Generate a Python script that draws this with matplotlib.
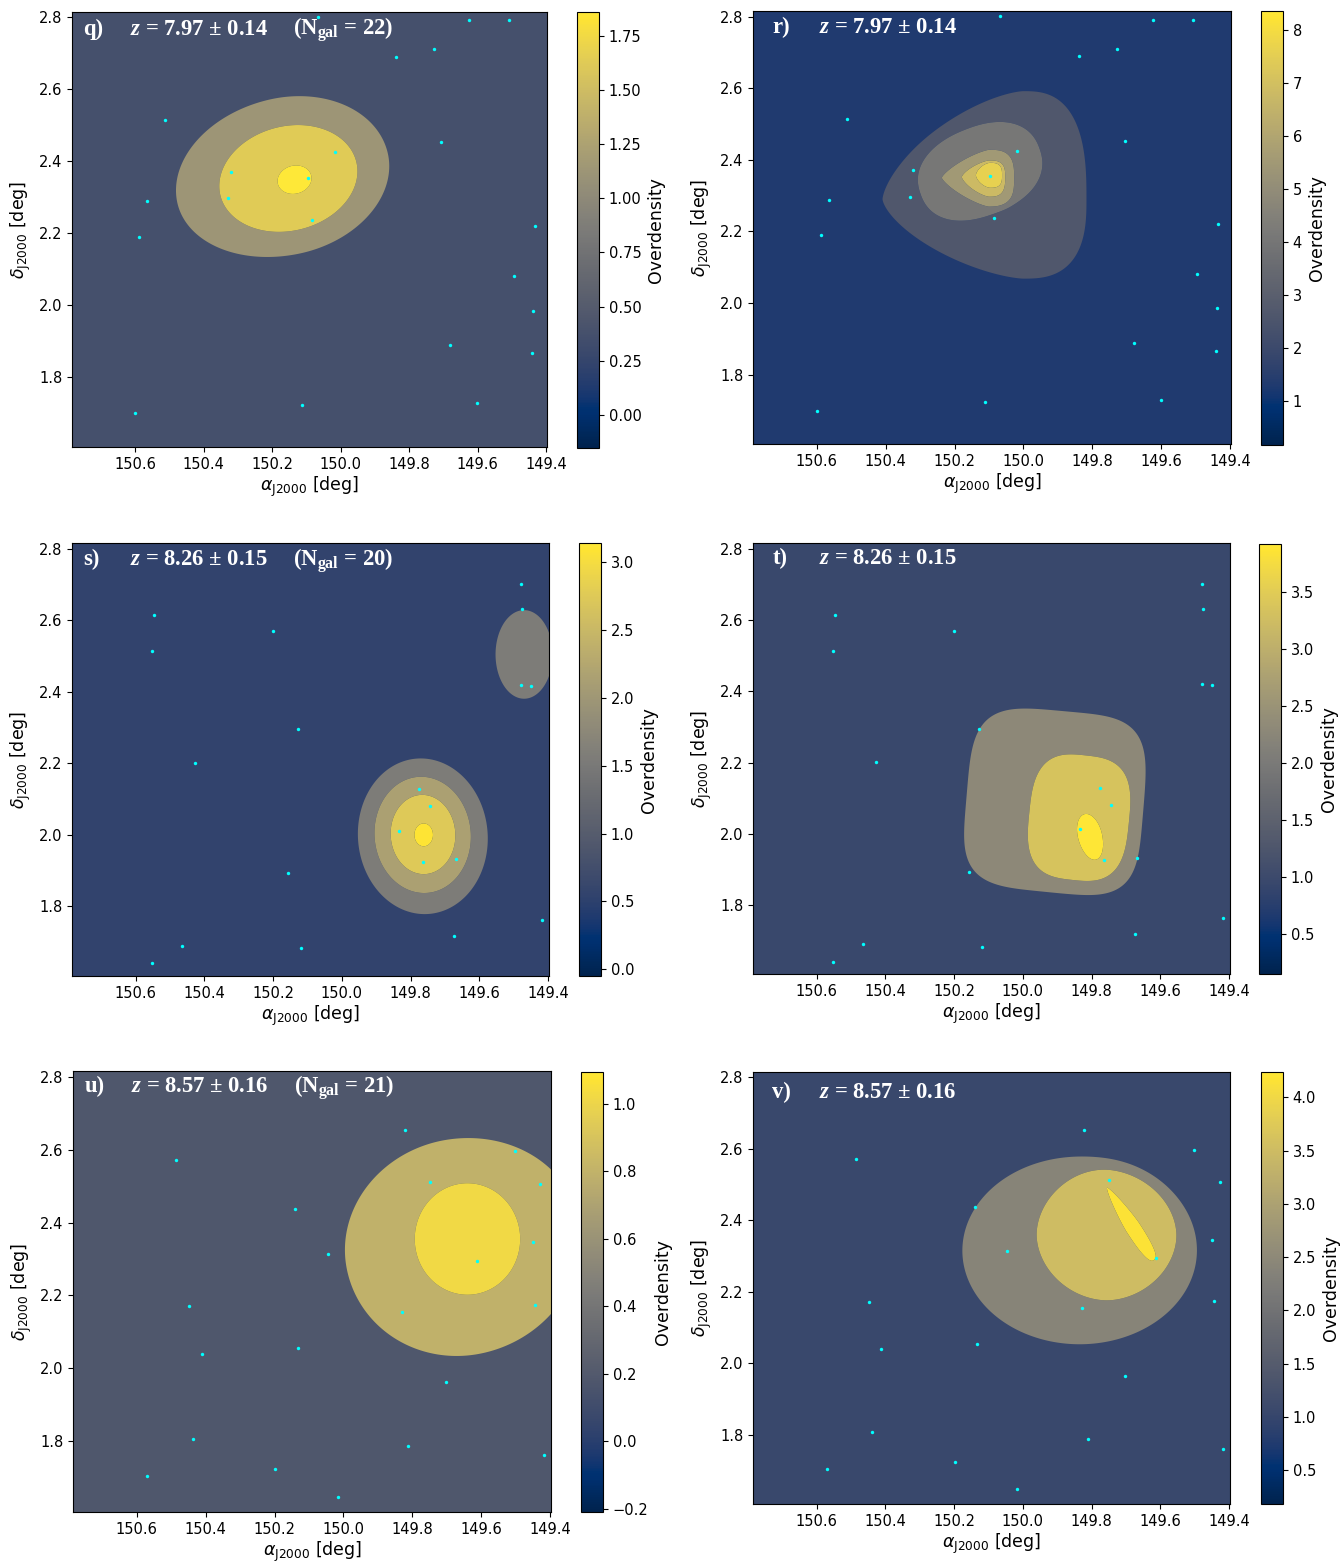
import numpy as np
import matplotlib
matplotlib.use("Agg")
import matplotlib.pyplot as plt
from matplotlib import cm, colors as mcolors

plt.rcParams['mathtext.fontset'] = 'custom'
plt.rcParams['mathtext.rm'] = 'Liberation Serif:bold'
plt.rcParams['mathtext.it'] = 'Liberation Serif:italic:bold'
plt.rcParams['mathtext.bf'] = 'Liberation Serif:bold'

# ---------------- galaxy positions (RA, Dec in deg) ----------------
z797_ra = [150.067, 149.624, 149.509, 149.728, 149.839, 150.513, 149.706, 150.018,
           150.322, 150.097, 150.329, 150.565, 150.084, 149.434, 150.589, 149.495,
           149.438, 149.680, 149.442, 149.601, 150.112, 150.600]
z797_dec = [2.801, 2.792, 2.792, 2.711, 2.690, 2.515, 2.453, 2.426,
            2.371, 2.355, 2.297, 2.289, 2.238, 2.220, 2.189, 2.081,
            1.985, 1.889, 1.866, 1.728, 1.723, 1.699]

z826_ra = [149.478, 149.475, 150.547, 150.201, 150.553, 149.478, 149.449, 150.128,
           150.428, 149.776, 149.743, 149.833, 149.765, 149.668, 150.158, 149.418,
           149.674, 150.465, 150.119, 150.552]
z826_dec = [2.701, 2.632, 2.615, 2.570, 2.514, 2.420, 2.418, 2.295,
            2.202, 2.129, 2.081, 2.012, 1.925, 1.932, 1.892, 1.763,
            1.717, 1.690, 1.683, 1.640]

z857_ra = [149.821, 149.501, 150.486, 149.749, 149.428, 150.140, 149.449, 150.046,
           149.613, 150.449, 149.445, 149.829, 150.133, 150.412, 149.702, 150.438,
           149.812, 149.418, 150.198, 150.571, 150.017]
z857_dec = [2.654, 2.597, 2.572, 2.512, 2.507, 2.436, 2.346, 2.313,
            2.295, 2.171, 2.175, 2.155, 2.055, 2.040, 1.963, 1.807,
            1.788, 1.761, 1.724, 1.704, 1.647]

# ---------------- panel descriptions ----------------
panel_letters = ['q', 'r', 's', 't', 'u', 'v']
redshift_text = ['7.97 ± 0.14', '7.97 ± 0.14', '8.26 ± 0.15', '8.26 ± 0.15',
                 '8.57 ± 0.16', '8.57 ± 0.16']
n_gal = [22, None, 20, None, 21, None]
galaxy_ra = [z797_ra, z797_ra, z826_ra, z826_ra, z857_ra, z857_ra]
galaxy_dec = [z797_dec, z797_dec, z826_dec, z826_dec, z857_dec, z857_dec]

cbar_min = [-0.15, 0.18, -0.05, 0.15, -0.21, 0.18]
cbar_max = [1.86, 8.36, 3.14, 3.92, 1.095, 4.24]
cbar_ticks = [[0.0, 0.25, 0.5, 0.75, 1.0, 1.25, 1.5, 1.75],
              [1, 2, 3, 4, 5, 6, 7, 8],
              [0.0, 0.5, 1.0, 1.5, 2.0, 2.5, 3.0],
              [0.5, 1.0, 1.5, 2.0, 2.5, 3.0, 3.5],
              [-0.2, 0.0, 0.2, 0.4, 0.6, 0.8, 1.0],
              [0.5, 1.0, 1.5, 2.0, 2.5, 3.0, 3.5, 4.0]]

# overdensity value shown by each filled band (background -> peak)
band_values = [[0.375, 1.125, 1.625, 1.875],
               [1.3, 2.65, 4.05, 5.5, 6.8, 7.6],
               [0.55, 1.55, 2.15, 2.75, 3.1],
               [0.95, 2.3, 3.35, 3.9],
               [0.18, 0.79, 1.02],
               [1.05, 2.4, 3.5, 4.15]]

# iso-overdensity contours (outermost -> innermost):
# (RA_c, Dec_c, extent to +RA, extent to -RA, extent up, extent down,
#  tilt_deg, shape exponent on +RA side, shape exponent on -RA side)
q_contours = [(150.16, 2.355, 0.325, 0.305, 0.222, 0.215, -12, 2, 2),
              (150.152, 2.352, 0.205, 0.203, 0.146, 0.145, -12, 2, 2),
              (150.135, 2.349, 0.05, 0.05, 0.039, 0.039, -12, 2, 2)]
r_contours = [(150.00, 2.29, 0.409, 0.183, 0.302, 0.222, 0, 1.5, 2.7),
              (150.126, 2.368, 0.184, 0.184, 0.125, 0.125, -20, 2.3, 2.3),
              (150.10, 2.35, 0.137, 0.073, 0.078, 0.081, 0, 1.3, 3),
              (150.10, 2.352, 0.079, 0.047, 0.046, 0.055, 0, 1.4, 3),
              (150.097, 2.357, 0.041, 0.035, 0.035, 0.035, 0, 1.6, 3)]
s_contours = [(149.765, 1.996, 0.188, 0.189, 0.218, 0.218, -6, 2, 2),
              (149.765, 2.0, 0.14, 0.14, 0.163, 0.163, -6, 2, 2),
              (149.764, 2.001, 0.094, 0.094, 0.111, 0.111, -4, 2, 2),
              (149.762, 2.0, 0.027, 0.027, 0.032, 0.032, 0, 2, 2),
              (149.47, 2.505, 0.083, 0.083, 0.124, 0.124, 0, 2, 2)]
t_contours = [(149.90, 2.08, 0.265, 0.25, 0.265, 0.245, 5, 4, 4),
              (149.836, 2.045, 0.146, 0.146, 0.176, 0.177, 6, 3, 3),
              (149.805, 1.995, 0.035, 0.035, 0.062, 0.07, -15, 2, 2)]
u_contours = [(149.66, 2.34, 0.337, 0.35, 0.29, 0.305, -10, 2, 2),
              (149.64, 2.355, 0.153, 0.153, 0.153, 0.153, 0, 2, 2)]
v_contours = [(149.835, 2.315, 0.341, 0.341, 0.263, 0.262, 0, 2.0, 2.0),
              (149.756, 2.36, 0.204, 0.204, 0.185, 0.184, 0, 1.9, 1.9),
              (149.68, 2.38, 0.135, 0.11, 0.022, 0.022, 56, 1.4, 2.6)]
panel_contours = [q_contours, r_contours, s_contours, t_contours, u_contours, v_contours]

RA_LIM = (150.785, 149.3975)
DEC_LIM = (1.605, 2.816)
x_ticks = [150.6, 150.4, 150.2, 150.0, 149.8, 149.6, 149.4]
y_ticks = [1.8, 2.0, 2.2, 2.4, 2.6, 2.8]


def overdensity_map(ra, dec, contours, sharp=20.0):
    """Stack of smooth plateaus, one per iso-contour (value k inside k nested contours)."""
    out = np.zeros(np.broadcast(ra, dec).shape)
    for (ra0, dec0, wl, wr, hu, hd, ang, ql, qr) in contours:
        t = np.deg2rad(ang)
        dx = ra - ra0
        dy = dec - dec0
        u = dx * np.cos(t) + dy * np.sin(t)
        v = -dx * np.sin(t) + dy * np.cos(t)
        un = np.abs(np.where(u > 0, u / wl, u / wr))
        vn = np.abs(np.where(v > 0, v / hu, v / hd))
        q = np.where(u > 0, ql, qr)
        rr = (un ** q + vn ** q) ** (1.0 / q)
        out = out + 1.0 / (1.0 + np.minimum(rr, 50.0) ** sharp)
    return out


W, H = 1343, 1564
fig = plt.figure(figsize=(W / 100, H / 100), dpi=100)

# pixel boxes: (left, right, top, bottom)
ax_boxes = [(72, 547, 11.7, 447.3), (753, 1231, 11, 444.3),
            (72, 549, 543.3, 976), (753, 1230, 543.3, 974.3),
            (73, 551, 1071, 1512.3), (753, 1230, 1071.7, 1504.3)]
cb_boxes = [(577, 599, 11.7, 447.7), (1261, 1283, 11, 445),
            (579, 601, 543.3, 976), (1259, 1281, 544, 974.3),
            (581, 603, 1071.7, 1512.3), (1261, 1283, 1071.7, 1504.3)]
title_dx = [11.3, 19.5, 11.3, 19.5, 11.3, 19.5]
title_dy = [23, 22, 22, 21, 21.5, 26.5]


def rect(b):
    l, r, t, bt = b
    return [l / W, 1 - bt / H, (r - l) / W, (bt - t) / H]


cmap = plt.get_cmap('cividis')
gra = np.linspace(RA_LIM[1], RA_LIM[0], 700)
gdec = np.linspace(DEC_LIM[0], DEC_LIM[1], 700)
GRA, GDEC = np.meshgrid(gra, gdec)

for i in range(6):
    ax = fig.add_axes(rect(ax_boxes[i]))
    norm = mcolors.Normalize(vmin=cbar_min[i], vmax=cbar_max[i])
    Z = overdensity_map(GRA, GDEC, panel_contours[i])
    nb = len(band_values[i])
    levels = np.arange(nb + 1) - 0.5
    band_cols = [cmap(norm(v)) for v in band_values[i]]
    ax.set_facecolor(band_cols[0])
    ax.contourf(GRA, GDEC, np.clip(Z, 0, nb - 1), levels=levels, colors=band_cols,
                antialiased=True)
    ax.scatter(galaxy_ra[i], galaxy_dec[i], s=6, c='cyan', linewidths=0, zorder=5)
    ax.set_xlim(*RA_LIM)
    ax.set_ylim(*DEC_LIM)
    ax.set_xticks(x_ticks)
    ax.set_yticks(y_ticks)
    ax.tick_params(labelsize=10.5)
    ax.set_xlabel(r'$\alpha_{\rm J2000}$ [deg]', fontsize=12.5, math_fontfamily='dejavusans', labelpad=2)
    ax.set_ylabel(r'$\delta_{\rm J2000}$ [deg]', fontsize=12.5, math_fontfamily='dejavusans', labelpad=4)

    dx = title_dx[i] * 0.72
    dy = -title_dy[i] * 0.72
    tkw = dict(xy=(0, 1), xycoords='axes fraction', textcoords='offset points',
               color='white', fontsize=16.3, fontfamily='Liberation Serif',
               fontweight='bold', va='baseline', ha='left', math_fontfamily='custom')
    ax.annotate(panel_letters[i] + ')', xytext=(dx, dy), **tkw)
    ax.annotate(r'$z$ = ' + redshift_text[i], xytext=(dx + 46.7 * 0.72, dy), **tkw)
    if n_gal[i] is not None:
        ax.annotate(r'(N$_{\mathrm{gal}}$ = %d)' % n_gal[i],
                    xytext=(dx + 210 * 0.72, dy), **tkw)

    cax = fig.add_axes(rect(cb_boxes[i]))
    sm = cm.ScalarMappable(norm=norm, cmap=cmap)
    cb = fig.colorbar(sm, cax=cax)
    cb.set_ticks(cbar_ticks[i])
    cb.ax.tick_params(labelsize=10.5)
    cb.set_label('Overdensity', fontsize=12.5)

fig.savefig('out.png', dpi=100)
